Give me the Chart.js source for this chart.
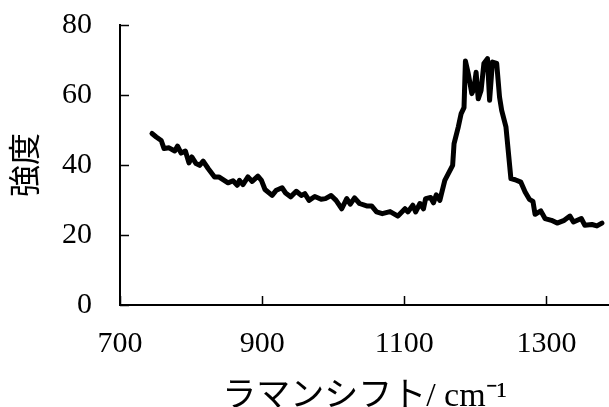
<!DOCTYPE html>
<html>
<head>
<meta charset="utf-8">
<script src="https://cdn.jsdelivr.net/npm/chart.js@4/dist/chart.umd.min.js"></script>
<style>
  html, body { margin: 0; padding: 0; background: #fff; overflow: hidden; }
  #wrap { width: 609px; height: 407px; }
</style>
</head>
<body>
<div id="wrap"><canvas id="chart"></canvas></div>
<script>
// Raman spectrum, values
const ramanShift = [745, 751, 758, 762, 769, 777, 781, 786, 792, 797,
    801, 807, 812, 817, 824, 833, 839, 845, 852, 859,
    865, 868, 873, 880, 886, 894, 899, 904, 914, 920,
    928, 933, 940, 948, 955, 960, 966, 974, 983, 989,
    997, 1004, 1012, 1019, 1024, 1030, 1037, 1047, 1054, 1061,
    1069, 1080, 1091, 1101, 1105, 1112, 1116, 1122, 1127, 1130,
    1137, 1141, 1145, 1150, 1157, 1168, 1170, 1176, 1180, 1184,
    1186, 1190, 1195, 1198, 1201, 1204, 1208, 1212, 1217, 1220,
    1224, 1230, 1234, 1237, 1243, 1250, 1256, 1264, 1270, 1276,
    1281, 1284, 1292, 1298, 1307, 1315, 1325, 1333, 1338, 1349,
    1354, 1364, 1371, 1378];
const intensity = [49.0, 48.0, 47.0, 44.7, 44.9, 44.0, 45.4, 43.4, 44.0, 40.6,
    42.3, 40.4, 39.9, 41.1, 39.0, 36.6, 36.6, 35.8, 34.9, 35.5,
    34.2, 35.6, 34.4, 36.6, 35.3, 36.8, 35.6, 33.0, 31.3, 32.8,
    33.5, 32.0, 30.9, 32.5, 31.3, 31.8, 29.9, 31.0, 30.2, 30.4,
    31.3, 29.9, 27.5, 30.4, 28.8, 30.6, 29.0, 28.3, 28.3, 26.6,
    26.1, 26.7, 25.4, 27.5, 26.6, 28.5, 26.6, 29.0, 27.5, 30.4,
    30.7, 29.2, 31.5, 29.9, 35.6, 39.9, 46.1, 50.9, 54.7, 56.4,
    69.7, 66.1, 60.4, 61.8, 66.5, 58.9, 61.3, 69.0, 70.4, 58.5,
    69.4, 69.0, 59.4, 55.6, 50.9, 36.1, 35.8, 35.1, 32.3, 30.2,
    29.6, 25.9, 26.9, 24.7, 24.2, 23.4, 24.2, 25.4, 23.7, 24.7,
    22.8, 23.0, 22.6, 23.4];
const xTicks = [700, 900, 1100, 1300];
const yTicks = [0, 20, 40, 60, 80];

const FONT = "'Liberation Serif', 'Noto Sans CJK JP', serif";

// tick marks point into the plot area
const innerTicks = {
    id: 'innerTicks',
    afterDraw(chart) {
        const ctx = chart.ctx;
        const x = chart.scales.x;
        const y = chart.scales.y;
        ctx.save();
        ctx.strokeStyle = '#000';
        ctx.lineWidth = 1.5;
        ctx.beginPath();
        xTicks.forEach(v => {
            const px = Math.round(x.getPixelForValue(v)) + 0.5;
            ctx.moveTo(px, x.top);
            ctx.lineTo(px, x.top - 9);
        });
        yTicks.forEach(v => {
            const py = Math.round(y.getPixelForValue(v)) + 0.5;
            ctx.moveTo(y.right, py);
            ctx.lineTo(y.right + 9, py);
        });
        ctx.stroke();
        ctx.restore();
    }
};

new Chart(document.getElementById('chart'), {
    type: 'line',
    data: {
        datasets: [{
            data: ramanShift.map((v, i) => ({ x: v, y: intensity[i] })),
            borderColor: '#000',
            borderWidth: 5,
            borderCapStyle: 'round',
            borderJoinStyle: 'round',
            pointRadius: 0,
            tension: 0,
            fill: false
        }]
    },
    options: {
        responsive: true,
        maintainAspectRatio: false,
        animation: false,
        events: [],
        layout: { padding: { top: 25, right: 0, left: 0, bottom: 0 } },
        plugins: { legend: { display: false }, tooltip: { enabled: false } },
        scales: {
            x: {
                type: 'linear',
                min: 700,
                max: 1388,
                afterBuildTicks: s => { s.ticks = xTicks.map(v => ({ value: v })); },
                afterFit: s => { s.height = 102; },
                ticks: {
                    autoSkip: false,
                    maxRotation: 0,
                    padding: 21,
                    color: '#000',
                    font: { family: FONT, size: 30 },
                    callback: v => String(v)
                },
                grid: { display: true, drawOnChartArea: false, drawTicks: false },
                border: { color: '#000', width: 2 },
                title: {
                    display: true,
                    text: 'ラマンシフト/ cm⁻¹',
                    color: '#000',
                    padding: { top: 0, bottom: -10 },
                    font: { family: FONT, size: 34 }
                }
            },
            y: {
                min: 0,
                max: 80,
                afterBuildTicks: s => { s.ticks = yTicks.map(v => ({ value: v })); },
                afterFit: s => { s.width = 120; },
                ticks: {
                    padding: 2,
                    color: '#000',
                    font: { family: FONT, size: 30 },
                    callback: v => String(v)
                },
                // invisible outer tick length only spaces the labels off the axis
                grid: { display: true, drawOnChartArea: false, drawTicks: true, tickLength: 26, tickColor: 'rgba(0,0,0,0)' },
                border: { color: '#000', width: 2 },
                title: {
                    display: true,
                    text: '強度',
                    color: '#000',
                    padding: { top: 8, bottom: 0 },
                    font: { family: FONT, size: 32 }
                }
            }
        }
    },
    plugins: [innerTicks]
});
</script>
</body>
</html>
